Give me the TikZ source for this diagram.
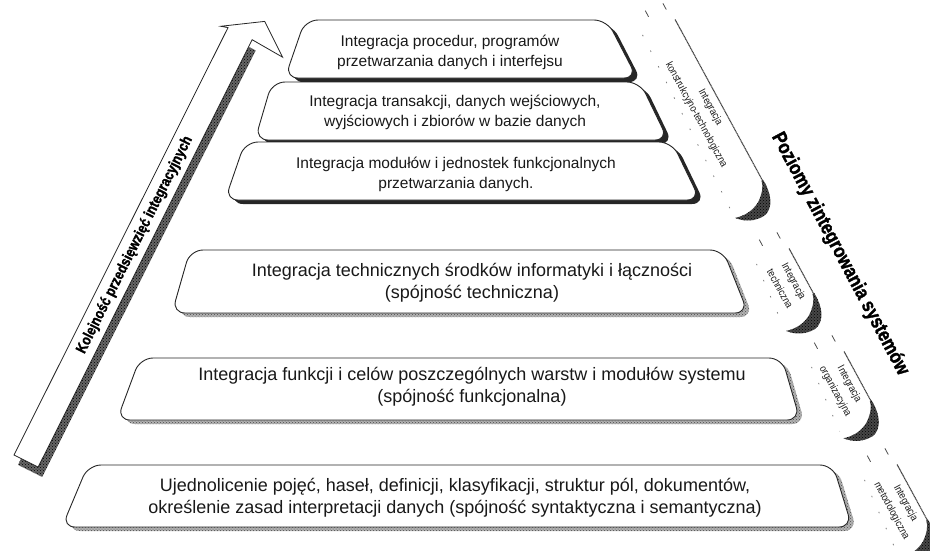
\documentclass[tikz,border=0pt]{standalone}
\usepackage{fontspec}
\setmainfont{Liberation Sans}
\newfontfamily\condensedfont[FakeStretch=0.86]{Liberation Sans}
\newfontfamily\heavyfont[FakeStretch=0.84, FakeBold=1.6]{Liberation Sans Bold}
\usetikzlibrary{patterns}

% one pyramid level: #1 shadow style, #2 top y, #3 bottom y,
% #4 top-left x, #5 bottom-left x, #6 top-right x, #7 bottom-right x
\newcommand\pyrlevel[7]{%
  \path[#1, shift={(5,4)}] (#4,#2) -- (#6,#2) -- (#7,#3) -- (#5,#3) -- cycle;
  \path[layer] (#4,#2) -- (#6,#2) -- (#7,#3) -- (#5,#3) -- cycle;}

% bracket on the right flank: #1 x, #2 y of its upper end, #3 length,
% #4 text position along the bracket, #5 node name, #6 first line, #7 second line
\newcommand\flankbracket[7]{%
  \begin{scope}[shift={(#1,#2)}, rotate=-61.5]
    \draw[bracedots] (-6,36) -- (#3-4,42);
    \draw[braceline] (-4,0) -- (#3-8,0);
    \path[hookfill] (#3-16,-0.8) .. controls (#3+6,-2) and (#3+18,8) .. (#3+16,20)
          .. controls (#3+15,30) and (#3+10,37) .. (#3+4,42)
          .. controls (#3+7,32) and (#3+6,22) .. (#3+1,14)
          .. controls (#3-4,7) and (#3-10,2) .. (#3-16,1) -- cycle;
    \draw[tick] (-24,3) -- (-17,3);
    \draw[tick] (-26,22) -- (-19,22);
    \node[bracetext, rotate=-61.5] (#5) at (#4,19) {#6\\#7};
  \end{scope}}

\begin{document}
\begin{tikzpicture}[x=1pt, y=-1pt,
  layer/.style={draw=black!85, line width=0.9pt, fill=white, rounded corners=13pt},
  darkshadow/.style={fill=black!85, rounded corners=13pt},
  dotshadow/.style={preaction={fill=black!30}, pattern=crosshatch dots, pattern color=black!70, rounded corners=13pt},
  uppertext/.style={font=\fontsize{15.5}{20}\selectfont, align=center, text=black!90, inner sep=0pt},
  lowertext/.style={font=\fontsize{18}{22}\selectfont, align=center, text=black!90, inner sep=0pt},
  halftone/.style={preaction={fill=black!60}, pattern=crosshatch dots, pattern color=black},
  hookfill/.style={preaction={fill=black!72}, pattern=crosshatch dots, pattern color=black},
  braceline/.style={draw=black!75, line width=1.1pt, dash pattern=on 1.2pt off 0.5pt},
  bracedots/.style={draw=black!50, line width=0.8pt, dash pattern=on 1.5pt off 16pt},
  tick/.style={draw=black!70, line width=0.8pt},
  bracetext/.style={font=\condensedfont\fontsize{10.5}{16}\selectfont, align=center, inner sep=0pt, text=black!90},
  arrowtext/.style={font=\heavyfont\fontsize{15}{17}\selectfont, inner sep=0pt},
  titletext/.style={font=\heavyfont\fontsize{20}{22}\selectfont, inner sep=0pt},
]
\useasboundingbox (0,0) rectangle (930,550);
\clip (0,0) rectangle (930,550);

% ---- direction arrow ----
\begin{scope}[shift={(14,455)}, rotate=63.4]
  \path[halftone] (-7,8) rectangle (470,35);
  \path[draw=black!85, line width=0.8pt, fill=white]
    (0,0) -- (478,0) -- (476,-7) -- (500,30) -- (476,62) -- (478,27) -- (0,27) -- cycle;
  \node[arrowtext, rotate=63.4] (order) at (242,14) {Kolejność przedsięwzięć integracyjnych};
\end{scope}

% ---- pyramid levels ----
\pyrlevel{darkshadow}{20}{78}{305}{285}{607}{637}
\node[uppertext] (l1) at (450,52) {Integracja procedur, programów\\przetwarzania danych i interfejsu};
\pyrlevel{darkshadow}{82}{140}{272}{255}{640}{668}
\node[uppertext] (l2) at (455,112) {Integracja transakcji, danych wejściowych,\\wyjściowych i zbiorów w bazie danych};
\pyrlevel{darkshadow}{142}{200}{245}{225}{672}{700}
\node[uppertext] (l3) at (456,174) {Integracja modułów i jednostek funkcjonalnych\\przetwarzania danych.};
\pyrlevel{dotshadow}{250}{313}{190}{172}{723}{748}
\node[lowertext] (l4) at (472,283) {Integracja technicznych środków informatyki i łączności\\(spójność techniczna)};
\pyrlevel{dotshadow}{358}{420}{140}{117}{782}{800}
\node[lowertext] (l5) at (472,387) {Integracja funkcji i celów poszczególnych warstw i modułów systemu\\(spójność funkcjonalna)};
\pyrlevel{dotshadow}{465}{527}{88}{62}{833}{852}
\node[lowertext] (l6) at (455,498) {Ujednolicenie pojęć, haseł, definicji, klasyfikacji, struktur pól, dokumentów,\\określenie zasad interpretacji danych (spójność syntaktyczna i semantyczna)};

% ---- brackets on the right flank ----
\flankbracket{677}{23}{195}{90}{b1}{Integracja}{konstrukcyjno-technologiczna}
\flankbracket{791}{252}{63}{27}{b2}{Integracja}{techniczna}
\flankbracket{846}{355}{68}{27}{b3}{Integracja}{organizacyjna}
\flankbracket{899}{468}{75}{34}{b4}{Integracja}{metodologiczna}

% ---- title along the flank ----
\node[titletext, rotate=-62] (levels) at (840,254) {Poziomy zintegrowania systemów};
\end{tikzpicture}
\end{document}
